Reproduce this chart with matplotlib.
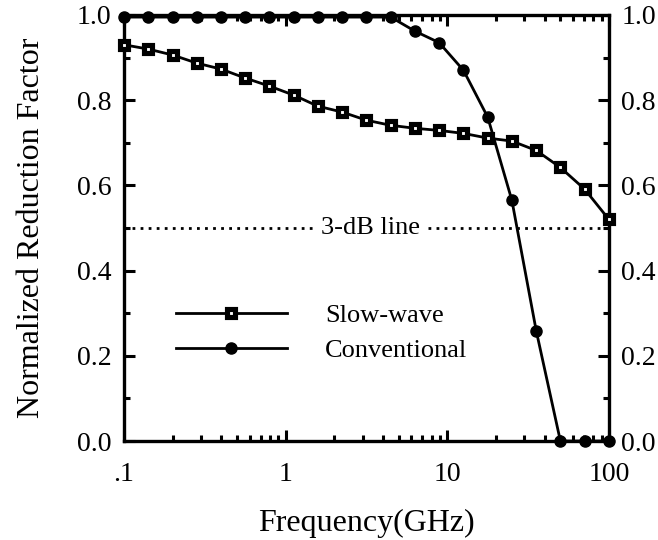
import matplotlib
matplotlib.use("Agg")
import matplotlib.pyplot as plt
from matplotlib.ticker import FixedLocator, FuncFormatter, LogLocator, NullFormatter

plt.rcParams['font.family'] = ['Liberation Serif', 'DejaVu Serif']

# frequencies (GHz)
freq = [0.1, 0.141, 0.2, 0.282, 0.398, 0.562, 0.794, 1.12, 1.58, 2.24, 3.16,
        4.47, 6.31, 8.91, 12.6, 17.8, 25.1, 35.5, 50.1, 70.8, 100]

slow_wave = [0.93, 0.92, 0.906, 0.887, 0.873, 0.852, 0.833, 0.812, 0.786,
             0.772, 0.753, 0.741, 0.734, 0.729, 0.722, 0.711, 0.704, 0.682,
             0.642, 0.591, 0.52]

conventional = [0.995, 0.995, 0.995, 0.995, 0.995, 0.995, 0.995, 0.995, 0.995,
                0.995, 0.995, 0.995, 0.962, 0.935, 0.87, 0.76, 0.565, 0.259,
                0.0, 0.0, 0.0]

xtick_vals = [0.1, 1, 10, 100]
xtick_labels = ['.1', '1', '10', '100']

fig = plt.figure(figsize=(6.58, 5.40), dpi=100)
ax = fig.add_axes([0.1884, 0.1833, 0.737, 0.789])

ax.plot(freq, slow_wave, color='black', lw=2, marker='s', ms=6.1,
        mfc='white', mec='black', mew=3.7, label='Slow-wave', clip_on=False, zorder=3)
ax.plot(freq, conventional, color='black', lw=2, marker='o', ms=8,
        mfc='black', mec='black', label='Conventional', clip_on=False, zorder=3)

# 3-dB line with label in the middle
ax.plot([0.1, 1.47], [0.5, 0.5], color='black', lw=2, ls=(0, (1, 1.9)))
ax.plot([7.6, 100], [0.5, 0.5], color='black', lw=2, ls=(0, (1, 1.9)))
ax.text(3.37, 0.5, '3-dB line', ha='center', va='center', fontsize=19)

ax.set_xscale('log')
ax.set_xlim(0.1, 100)
ax.set_ylim(0, 1.0)

ax.xaxis.set_major_locator(FixedLocator(xtick_vals))
ax.set_xticklabels(xtick_labels)
ax.xaxis.set_minor_locator(LogLocator(base=10, subs=range(2, 10)))
ax.xaxis.set_minor_formatter(NullFormatter())

ax.set_yticks([0.0, 0.2, 0.4, 0.6, 0.8, 1.0])
ax.yaxis.set_major_formatter(FuncFormatter(lambda v, p: f'{v:.1f}'))
ax.set_yticks([0.1, 0.3, 0.5, 0.7, 0.9], minor=True)

ax.tick_params(which='both', direction='in', top=True, right=True,
               labelright=True, width=2.2, labelsize=20)
ax.tick_params(which='major', length=8, pad=9)
ax.tick_params(which='minor', length=4.5)
ax.tick_params(axis='x', which='major', pad=15)

for s in ax.spines.values():
    s.set_linewidth(2.4)

ax.set_xlabel('Frequency(GHz)', fontsize=23, labelpad=16)
ax.set_ylabel('Normalized Reduction Factor', fontsize=23, labelpad=22)

leg = ax.legend(loc='upper left', bbox_to_anchor=(0.107, 0.323), frameon=False,
                fontsize=19, handlelength=4.2, handletextpad=1.45,
                labelspacing=0.45, borderpad=0, borderaxespad=0)

fig.savefig('out.png', dpi=100)
